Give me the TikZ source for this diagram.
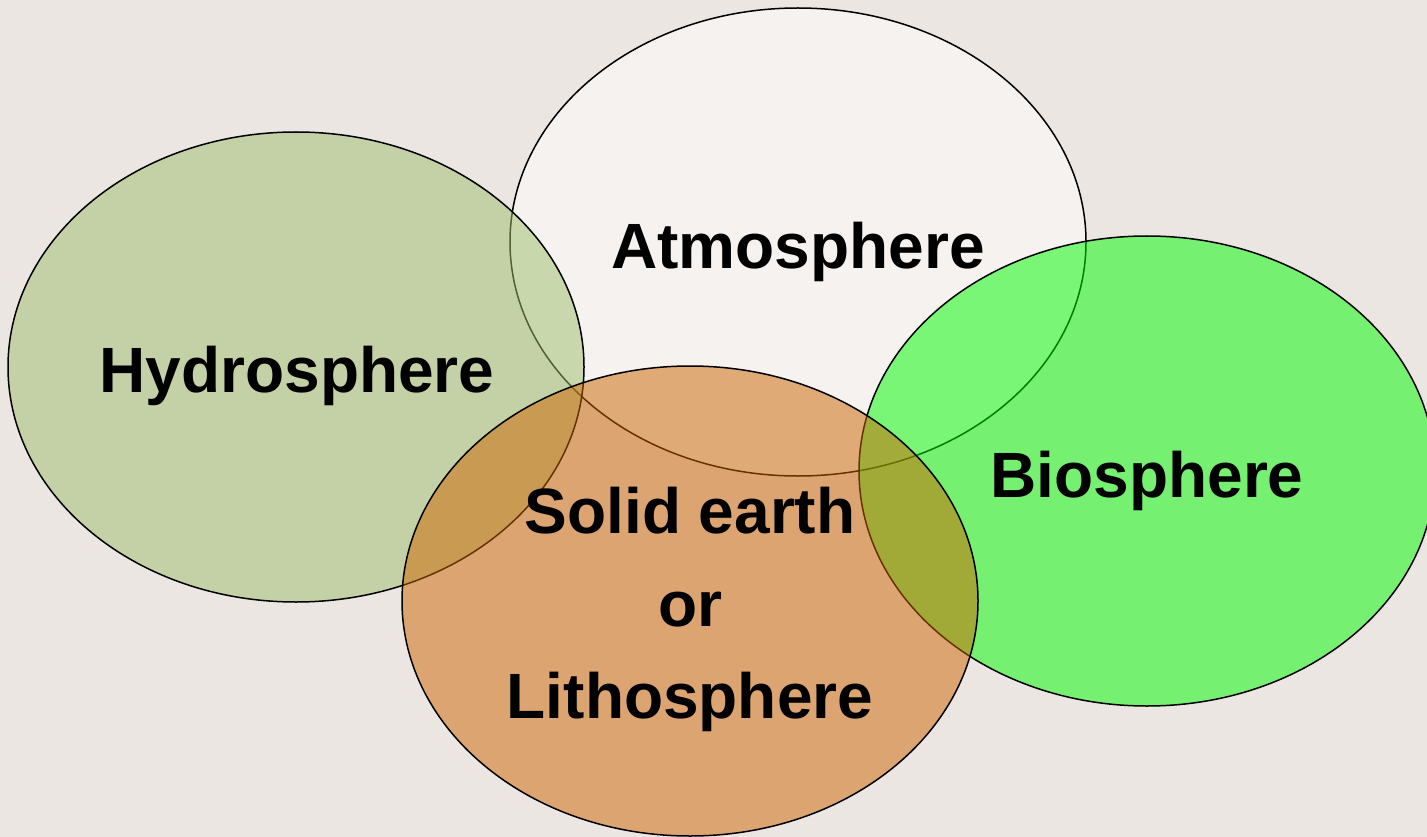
\documentclass[tikz,border=0pt]{standalone}
\usepackage{fontspec}
\setmainfont{Liberation Sans}
\begin{document}
\begin{tikzpicture}[x=1pt,y=-1pt,
  sphere/.style={draw=black,line width=1.5pt,fill opacity=0.5,draw opacity=1},
  lbl/.style={anchor=base,inner sep=0pt,font=\fontsize{64}{75}\selectfont\bfseries}]
\definecolor{bgc}{RGB}{235,230,226}
\definecolor{hydroc}{RGB}{159,190,108}
\definecolor{bioc}{RGB}{0,250,0}
\definecolor{lithoc}{RGB}{205,100,0}
\fill[bgc] (0,0) rectangle (1427,837);
\useasboundingbox (0,0) rectangle (1427,837);
\begin{scope}
\clip (0,0) rectangle (1427,837);
\draw[sphere,fill=white] (798,242) ellipse [x radius=288pt,y radius=234pt];
\draw[sphere,fill=hydroc] (296,367) ellipse [x radius=288pt,y radius=235pt];
\draw[sphere,fill=bioc] (1147,471) ellipse [x radius=288pt,y radius=235pt];
\draw[sphere,fill=lithoc] (690,601) ellipse [x radius=288pt,y radius=235pt];
\end{scope}
\node[lbl] (atmo) at (798,268) {Atmosphere};
\node[lbl] (hydro) at (297,392) {Hydrosphere};
\node[lbl] (bio) at (1147,497) {Biosphere};
\node[lbl] (solid) at (690,533) {Solid earth};
\node[lbl] (or) at (690,626) {or};
\node[lbl] (litho) at (690,718) {Lithosphere};
\end{tikzpicture}
\end{document}
